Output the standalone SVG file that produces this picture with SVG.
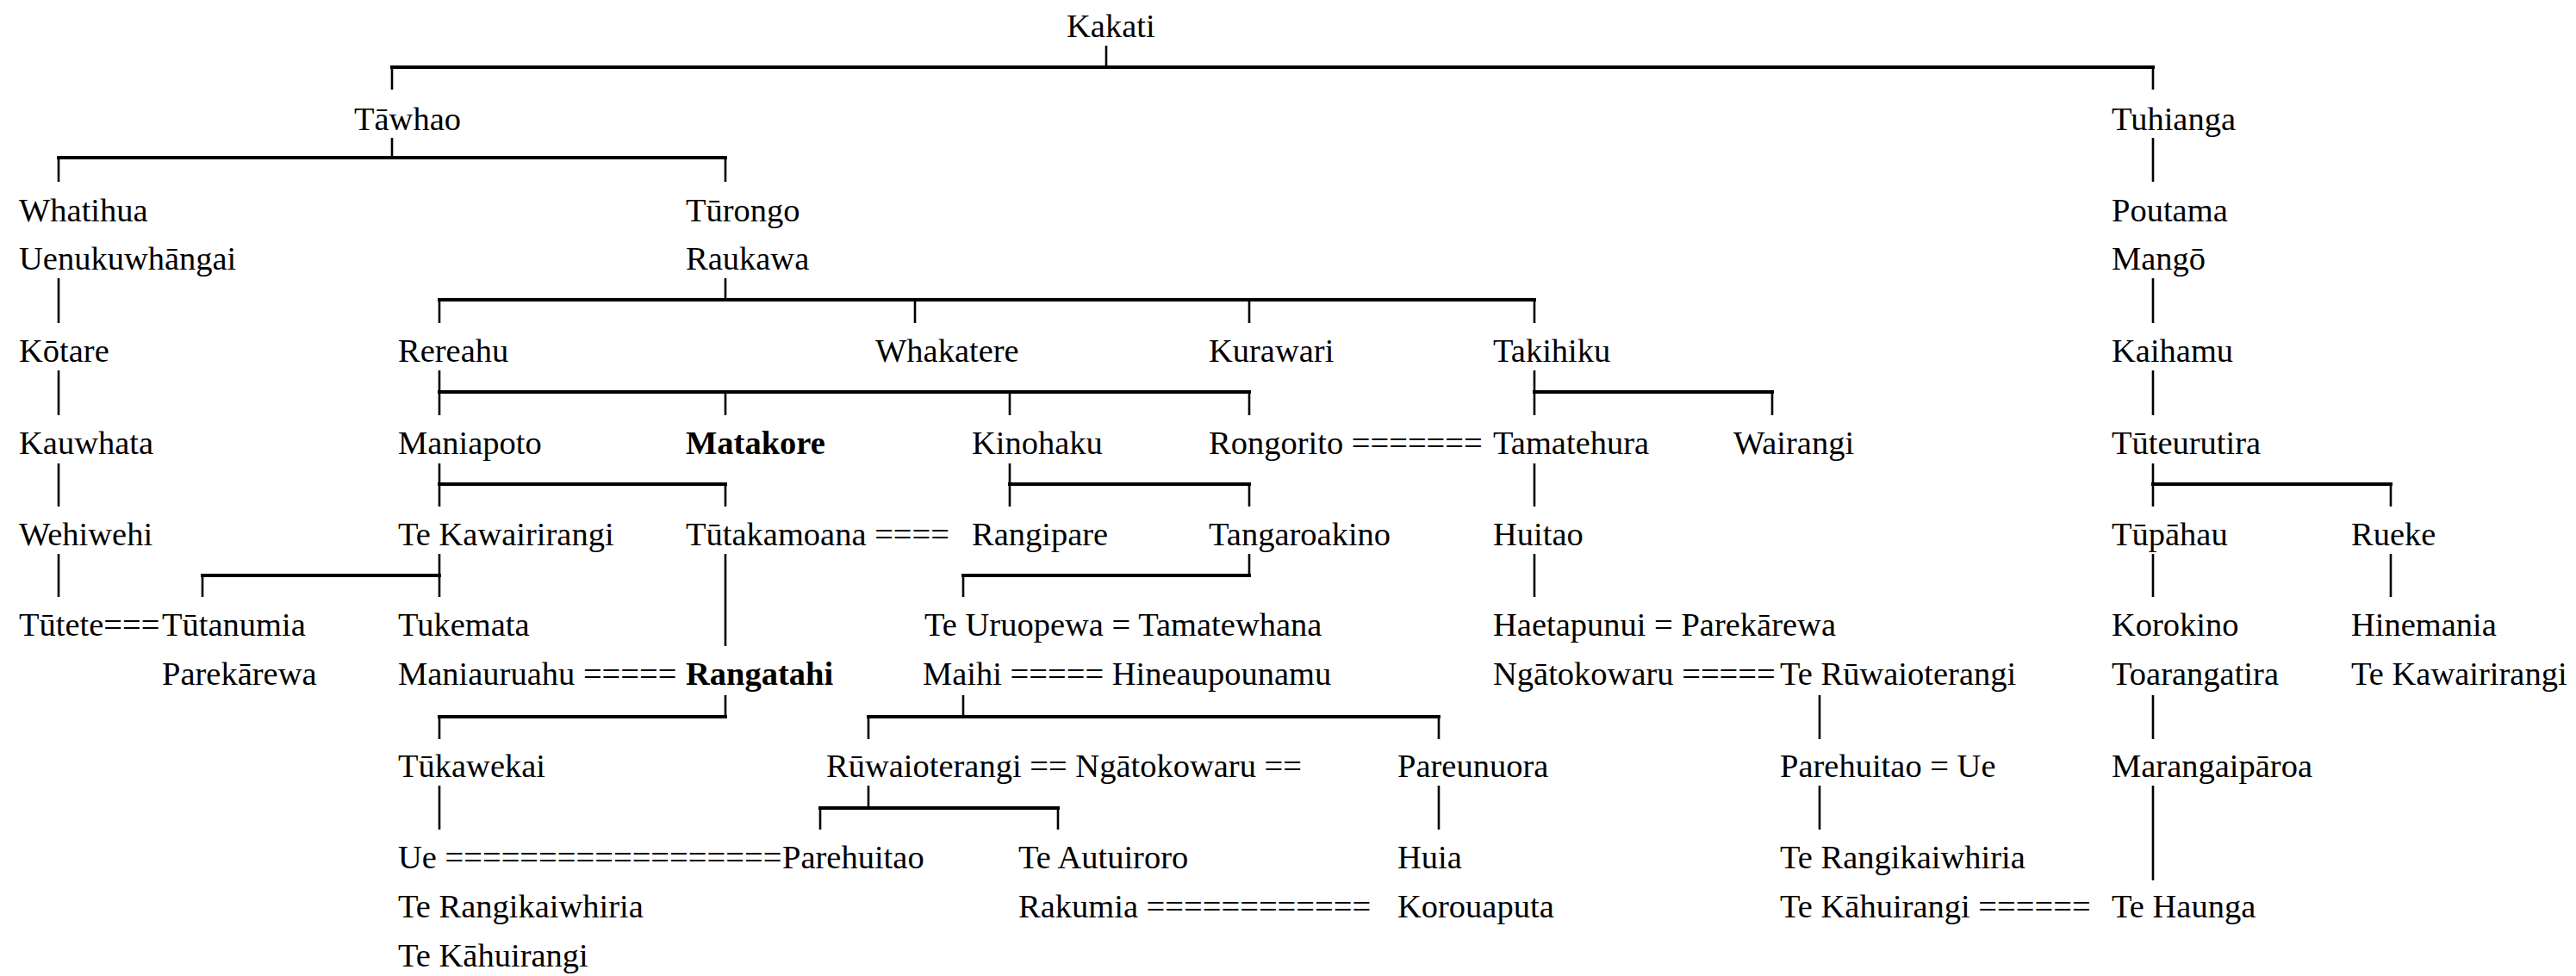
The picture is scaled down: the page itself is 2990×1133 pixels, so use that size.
<svg xmlns="http://www.w3.org/2000/svg" width="2990" height="1133" viewBox="0 0 2990 1133">
<style>
.nodes text{font-size:38.5px;fill:#000}
.b{font-weight:bold}
.h{stroke:#000;stroke-width:4;fill:none;stroke-linecap:square}
.v{stroke:#000;stroke-width:2.6;fill:none}
</style>
<rect width="2990" height="1133" fill="#fff"/>
<g id="connectors">
<path class="h" d="M455,78H2499M68,183H842M510,348H1781M510,455H1450M1781,455H2057M510,562H842M1172,562H1450M2499,562H2775M235,668H510M1118,668H1450M510,832H842M1008,832H1670M952,938H1228"/>
<path class="v" d="M1284,53V78M455,78V104M2499,78V104M455,160V183M68,183V211M842,183V211M2499,160V211M68,323V375M842,323V348M510,348V375M1062,348V375M1450,348V375M1781,348V375M2499,323V375M68,430V482M510,430V482M842,455V482M1172,455V482M1450,455V482M1781,430V482M2057,455V482M2499,430V482M68,538V588M510,538V588M842,562V588M1172,538V588M1450,562V588M1781,538V588M2499,538V588M2775,562V588M68,643V693M510,643V693M235,668V693M842,643V750M1450,643V668M1118,668V693M1781,643V693M2499,643V693M2775,643V693M842,807V832M510,832V858M1118,807V832M1008,832V858M1670,832V858M2112,807V858M2499,807V858M510,912V963M1008,912V938M952,938V963M1228,938V963M1670,912V963M2112,912V963M2499,912V1022"/>
</g>
<g class="nodes" font-family="'Liberation Serif', 'Times New Roman', serif">
<g id="n-kakati"><text x="1238" y="43">Kakati</text></g>
<g id="n-tawhao"><text x="411" y="151">Tāwhao</text></g>
<g id="n-tuhianga"><text x="2451" y="151">Tuhianga</text></g>
<g id="n-whatihua"><text x="22" y="257">Whatihua</text></g>
<g id="n-turongo"><text x="796" y="257">Tūrongo</text></g>
<g id="n-poutama"><text x="2451" y="257">Poutama</text></g>
<g id="n-uenukuwhangai"><text x="22" y="313">Uenukuwhāngai</text></g>
<g id="n-raukawa"><text x="796" y="313">Raukawa</text></g>
<g id="n-mango"><text x="2451" y="313">Mangō</text></g>
<g id="n-kotare"><text x="22" y="420">Kōtare</text></g>
<g id="n-rereahu"><text x="462" y="420">Rereahu</text></g>
<g id="n-whakatere"><text x="1016" y="420">Whakatere</text></g>
<g id="n-kurawari"><text x="1403" y="420">Kurawari</text></g>
<g id="n-takihiku"><text x="1733" y="420">Takihiku</text></g>
<g id="n-kaihamu"><text x="2451" y="420">Kaihamu</text></g>
<g id="n-kauwhata"><text x="22" y="527">Kauwhata</text></g>
<g id="n-maniapoto"><text x="462" y="527">Maniapoto</text></g>
<g id="n-matakore"><text class="b" x="796" y="527">Matakore</text></g>
<g id="n-kinohaku"><text x="1128" y="527">Kinohaku</text></g>
<g id="n-rongorito"><text x="1403" y="527">Rongorito =======</text></g>
<g id="n-tamatehura"><text x="1733" y="527">Tamatehura</text></g>
<g id="n-wairangi"><text x="2012" y="527">Wairangi</text></g>
<g id="n-tuteurutira"><text x="2451" y="527">Tūteurutira</text></g>
<g id="n-wehiwehi"><text x="22" y="633">Wehiwehi</text></g>
<g id="n-tekawairirangi1"><text x="462" y="633">Te Kawairirangi</text></g>
<g id="n-tutakamoana"><text x="796" y="633">Tūtakamoana ====</text></g>
<g id="n-rangipare"><text x="1128" y="633">Rangipare</text></g>
<g id="n-tangaroakino"><text x="1403" y="633">Tangaroakino</text></g>
<g id="n-huitao"><text x="1733" y="633">Huitao</text></g>
<g id="n-tupahau"><text x="2451" y="633">Tūpāhau</text></g>
<g id="n-rueke"><text x="2729" y="633">Rueke</text></g>
<g id="n-tutete"><text x="22" y="738">Tūtete===</text></g>
<g id="n-tutanumia"><text x="188" y="738">Tūtanumia</text></g>
<g id="n-tukemata"><text x="462" y="738">Tukemata</text></g>
<g id="n-teuruopewa"><text x="1073" y="738">Te Uruopewa = Tamatewhana</text></g>
<g id="n-haetapunui"><text x="1733" y="738">Haetapunui = Parekārewa</text></g>
<g id="n-korokino"><text x="2451" y="738">Korokino</text></g>
<g id="n-hinemania"><text x="2729" y="738">Hinemania</text></g>
<g id="n-parekarewa"><text x="188" y="795">Parekārewa</text></g>
<g id="n-maniauruahu"><text x="462" y="795">Maniauruahu =====</text></g>
<g id="n-rangatahi"><text class="b" x="796" y="795">Rangatahi</text></g>
<g id="n-maihi"><text x="1071" y="795">Maihi ===== Hineaupounamu</text></g>
<g id="n-ngatokowaru"><text x="1733" y="795">Ngātokowaru =====</text></g>
<g id="n-teruwaioterangi"><text x="2066" y="795">Te Rūwaioterangi</text></g>
<g id="n-toarangatira"><text x="2451" y="795">Toarangatira</text></g>
<g id="n-tekawairirangi2"><text x="2729" y="795">Te Kawairirangi</text></g>
<g id="n-tukawekai"><text x="462" y="902">Tūkawekai</text></g>
<g id="n-ruwaioterangi"><text x="959" y="902">Rūwaioterangi == Ngātokowaru ==</text></g>
<g id="n-pareunuora"><text x="1622" y="902">Pareunuora</text></g>
<g id="n-parehuitao-ue"><text x="2066" y="902">Parehuitao = Ue</text></g>
<g id="n-marangaiparoa"><text x="2451" y="902">Marangaipāroa</text></g>
<g id="n-ue"><text x="462" y="1008">Ue ==================</text></g>
<g id="n-parehuitao"><text x="908" y="1008">Parehuitao</text></g>
<g id="n-teautuiroro"><text x="1182" y="1008">Te Autuiroro</text></g>
<g id="n-huia"><text x="1622" y="1008">Huia</text></g>
<g id="n-terangikaiwhiria2"><text x="2066" y="1008">Te Rangikaiwhiria</text></g>
<g id="n-terangikaiwhiria1"><text x="462" y="1065">Te Rangikaiwhiria</text></g>
<g id="n-rakumia"><text x="1182" y="1065">Rakumia ============</text></g>
<g id="n-korouaputa"><text x="1622" y="1065">Korouaputa</text></g>
<g id="n-tekahuirangi2"><text x="2066" y="1065">Te Kāhuirangi ======</text></g>
<g id="n-tehaunga"><text x="2451" y="1065">Te Haunga</text></g>
<g id="n-tekahuirangi1"><text x="462" y="1122">Te Kāhuirangi</text></g>
</g>
</svg>
